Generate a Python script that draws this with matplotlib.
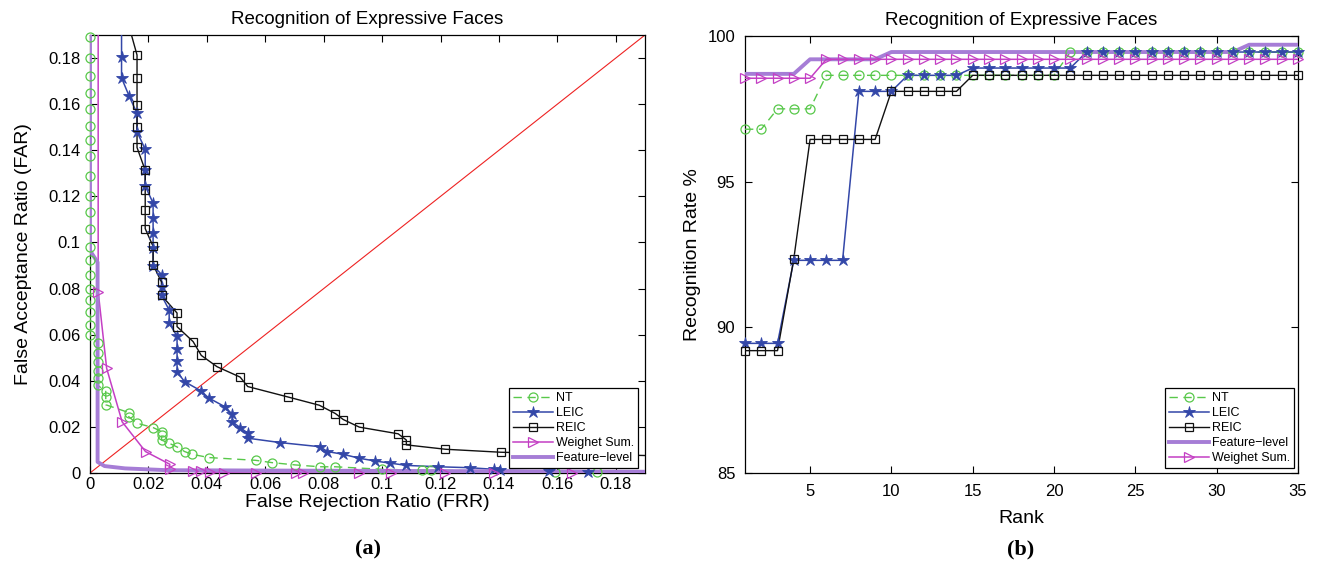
import matplotlib
matplotlib.use('Agg')
import matplotlib.pyplot as plt
from matplotlib.lines import Line2D
from matplotlib.ticker import FormatStrFormatter
import numpy as np

plt.rcParams['font.family'] = ['Liberation Sans', 'DejaVu Sans']

# ---------------- data: panel (a) DET-like curves ----------------
nt_frr = [0, 0, 0, 0, 0, 0, 0, 0, 0, 0, 0, 0, 0, 0, 0, 0, 0, 0, 0, 0,
          0.0026, 0.0026, 0.0026, 0.0026, 0.0026, 0.0026,
          0.0054, 0.0054, 0.0054,
          0.0133, 0.0133, 0.0161, 0.0216, 0.0245, 0.0245, 0.0245, 0.0271, 0.0298,
          0.0324, 0.035, 0.0407, 0.0567, 0.0623, 0.0703, 0.0787, 0.084, 0.1001,
          0.1138, 0.1166, 0.1593, 0.1734, 0.20]
nt_far = [0.1893, 0.18, 0.1723, 0.1647, 0.1577, 0.1506, 0.1443, 0.1374, 0.1287, 0.1201,
          0.1132, 0.1057, 0.098, 0.0922, 0.0857, 0.0799, 0.0751, 0.0697, 0.0643, 0.060,
          0.0562, 0.0519, 0.0480, 0.0443, 0.0412, 0.0381,
          0.0354, 0.0328, 0.0296,
          0.0262, 0.0243, 0.0216, 0.0197, 0.018, 0.0165, 0.0143, 0.0129, 0.0113,
          0.0093, 0.0081, 0.0067, 0.0055, 0.0045, 0.0035, 0.0027, 0.0027, 0.0016,
          0.0012, 0.0012, 0.0006, 0.0005, 0.0004]

leic_frr = [0.0108, 0.0108, 0.0108, 0.0134, 0.0161, 0.0161, 0.0189, 0.0189, 0.0189,
            0.0216, 0.0216, 0.0216, 0.0216, 0.0216, 0.0245, 0.0245, 0.0245, 0.0271,
            0.0271, 0.0298, 0.0298, 0.0298, 0.0298, 0.0324, 0.0379, 0.0407, 0.0461,
            0.0487, 0.0487, 0.0514, 0.054, 0.054, 0.0651, 0.0787, 0.0813, 0.0867,
            0.0922, 0.0976, 0.1027, 0.1083, 0.1192, 0.130, 0.1382, 0.1405, 0.157,
            0.1704, 0.20]
leic_far = [0.20, 0.1806, 0.1714, 0.1635, 0.156, 0.148, 0.1404, 0.1313, 0.1245,
            0.1171, 0.1107, 0.1042, 0.0977, 0.090, 0.0861, 0.0809, 0.077, 0.0707,
            0.0651, 0.0593, 0.0538, 0.0487, 0.0439, 0.0396, 0.0357, 0.0325, 0.0288,
            0.0255, 0.0222, 0.0197, 0.0173, 0.0151, 0.0132, 0.0114, 0.0093, 0.0081,
            0.0064, 0.0052, 0.0043, 0.0033, 0.0027, 0.0023, 0.0016, 0.0012, 0.0008,
            0.0005, 0.0003]

reic_frr = [0.0120, 0.0161, 0.0161, 0.0161, 0.0161, 0.0161, 0.0189, 0.0189, 0.0189,
            0.0189, 0.0216, 0.0216, 0.0245, 0.0245, 0.0298, 0.0298, 0.0353, 0.0381,
            0.0435, 0.0514, 0.054, 0.0677, 0.0785, 0.0840, 0.0867, 0.0922, 0.1055,
            0.1083, 0.1083, 0.1217, 0.1407, 0.20]
reic_far = [0.20, 0.1813, 0.1712, 0.1596, 0.150, 0.1412, 0.1313, 0.1229, 0.1143,
            0.1060, 0.0983, 0.0903, 0.0828, 0.077, 0.0694, 0.0635, 0.0570, 0.0510,
            0.0461, 0.0416, 0.0375, 0.0330, 0.0294, 0.0258, 0.0232, 0.0199, 0.0170,
            0.0143, 0.0122, 0.0103, 0.0090, 0.0073]

ws_frr = [0.0028, 0.0028, 0.0057, 0.011, 0.019, 0.0273, 0.0273, 0.0353, 0.0379, 0.041,
          0.046, 0.0569, 0.0705, 0.0728, 0.0922, 0.103, 0.1217, 0.1382, 0.165, 0.20]
ws_far = [0.20, 0.0787, 0.0454, 0.0222, 0.0093, 0.0038, 0.0016, 0.0009, 0.0007, 0.0003,
          0.0001, 0.0, 0.0, 0.0, 0.0, 0.0, 0.0, 0.0, 0.0, 0.0]

fl_frr = [0.0, 0.0, 0.0026, 0.0026, 0.005, 0.012, 0.0267, 0.20]
fl_far = [0.20, 0.0965, 0.0914, 0.0048, 0.003, 0.002, 0.0012, 0.0005]

# ---------------- data: panel (b) CMC curves ----------------
ranks = list(range(1, 36))
nt_rate = [96.8] * 2 + [97.5] * 3 + [98.65] * 15 + [99.45] * 15
leic_rate = [89.45] * 3 + [92.3] * 4 + [98.1] * 3 + [98.65] * 4 + [98.9] * 7 + [99.45] * 14
reic_rate = [89.2] * 3 + [92.35] + [96.45] * 5 + [98.1] * 5 + [98.65] * 21
ws_rate = [98.55] * 5 + [99.2] * 30
fl_rate = [98.7] * 4 + [99.2] * 5 + [99.45] * 22 + [99.7] * 4

title_text = 'Recognition of Expressive Faces'
ticks_a = [0, 0.02, 0.04, 0.06, 0.08, 0.1, 0.12, 0.14, 0.16, 0.18]
xticks_b = [5, 10, 15, 20, 25, 30, 35]
yticks_b = [85, 90, 95, 100]

# ---------------- styles ----------------
GREEN = '#58c84a'
BLUE = '#3347a8'
BLACK = '#111111'
MAGENTA = '#c43fc4'
LAVENDER = '#a67dd6'

styles = {
    'NT': dict(color=GREEN, ls=(0, (6, 4)), lw=1.0, marker='o', ms=6.5, mfc='none', mew=0.9),
    'LEIC': dict(color=BLUE, ls='-', lw=1.1, marker='*', ms=9, mfc=BLUE, mew=0.6),
    'REIC': dict(color=BLACK, ls='-', lw=1.0, marker='s', ms=6, mfc='none', mew=0.9),
    'WS': dict(color=MAGENTA, ls='-', lw=1.1, marker='>', ms=7, mfc='none', mew=0.9),
    'FL': dict(color=LAVENDER, ls='-', lw=2.8, marker=None, ms=0, mfc='none', mew=0),
}


def draw(ax, x, y, st, xlim, ylim):
    x = np.asarray(x, float)
    y = np.asarray(y, float)
    ax.plot(x, y, color=st['color'], ls=st['ls'], lw=st['lw'], zorder=3)
    if st['marker']:
        m = (x >= xlim[0]) & (x <= xlim[1]) & (y >= ylim[0]) & (y <= ylim[1])
        ax.plot(x[m], y[m], ls='none', marker=st['marker'], ms=st['ms'],
                mfc=st['mfc'], mec=st['color'], mew=st['mew'], clip_on=False, zorder=4)
    return Line2D([], [], color=st['color'], ls=st['ls'], lw=st['lw'],
                  marker=st['marker'] if st['marker'] else None, ms=st['ms'],
                  mfc=st['mfc'], mec=st['color'], mew=st['mew'])


fig = plt.figure(figsize=(13.2, 5.65), dpi=100)
ax1 = fig.add_axes([90 / 1320, 92 / 565, 555 / 1320, 438 / 565])
ax2 = fig.add_axes([745 / 1320, 92 / 565, 553 / 1320, 437 / 565])

# ---------- panel (a) ----------
lim_a = (0, 0.19)
ax1.plot(lim_a, lim_a, color='#ee2222', lw=0.8, zorder=2)
h_nt = draw(ax1, nt_frr, nt_far, styles['NT'], lim_a, lim_a)
h_leic = draw(ax1, leic_frr, leic_far, styles['LEIC'], lim_a, lim_a)
h_reic = draw(ax1, reic_frr, reic_far, styles['REIC'], lim_a, lim_a)
h_ws = draw(ax1, ws_frr, ws_far, styles['WS'], lim_a, lim_a)
h_fl = draw(ax1, fl_frr, fl_far, styles['FL'], lim_a, lim_a)
ax1.set_xlim(lim_a)
ax1.set_ylim(lim_a)
ax1.set_xticks(ticks_a)
ax1.set_yticks(ticks_a)
ax1.xaxis.set_major_formatter(FormatStrFormatter('%g'))
ax1.yaxis.set_major_formatter(FormatStrFormatter('%g'))
ax1.tick_params(direction='in', top=True, right=True, length=5, width=0.8,
                labelsize=12, pad=3)
ax1.tick_params(axis='y', pad=7)
ax1.set_title(title_text, fontsize=13.5, pad=8)
ax1.set_xlabel('False Rejection Ratio (FRR)', fontsize=14)
ax1.xaxis.set_label_coords(0.5, -0.068)
ax1.xaxis.label.set_va('center')
ax1.set_ylabel('False Acceptance Ratio (FAR)', fontsize=14)
ax1.yaxis.set_label_coords(-0.12, 0.5)
ax1.yaxis.label.set_va('center')
leg1 = ax1.legend([h_nt, h_leic, h_reic, h_ws, h_fl],
                  ['NT', 'LEIC', 'REIC', 'Weighet Sum.', 'Feature\u2212level'],
                  loc='lower right', bbox_to_anchor=(0.988, 0.011), fontsize=9,
                  fancybox=False, framealpha=1, edgecolor='black', handlelength=3.2,
                  handletextpad=0.3, labelspacing=0.25, borderpad=0.3, borderaxespad=0)
leg1.get_frame().set_linewidth(0.9)
leg1.set_zorder(10)

# ---------- panel (b) ----------
xlim_b = (1, 35)
ylim_b = (85, 100)
g_nt = draw(ax2, ranks, nt_rate, styles['NT'], xlim_b, ylim_b)
g_leic = draw(ax2, ranks, leic_rate, styles['LEIC'], xlim_b, ylim_b)
g_reic = draw(ax2, ranks, reic_rate, styles['REIC'], xlim_b, ylim_b)
g_fl = draw(ax2, ranks, fl_rate, styles['FL'], xlim_b, ylim_b)
g_ws = draw(ax2, ranks, ws_rate, styles['WS'], xlim_b, ylim_b)
ax2.set_xlim(xlim_b)
ax2.set_ylim(ylim_b)
ax2.set_xticks(xticks_b)
ax2.set_yticks(yticks_b)
ax2.tick_params(direction='in', top=True, right=True, length=5, width=0.8,
                labelsize=12, pad=8)
ax2.tick_params(axis='y', pad=7)
ax2.set_title(title_text, fontsize=13.5, pad=8)
ax2.set_xlabel('Rank', fontsize=14)
ax2.xaxis.set_label_coords(0.5, -0.103)
ax2.xaxis.label.set_va('center')
ax2.set_ylabel('Recognition Rate %', fontsize=14)
ax2.yaxis.set_label_coords(-0.095, 0.5)
ax2.yaxis.label.set_va('center')
leg2 = ax2.legend([g_nt, g_leic, g_reic, g_fl, g_ws],
                  ['NT', 'LEIC', 'REIC', 'Feature\u2212level', 'Weighet Sum.'],
                  loc='lower right', bbox_to_anchor=(0.993, 0.011), fontsize=9,
                  fancybox=False, framealpha=1, edgecolor='black', handlelength=3.2,
                  handletextpad=0.3, labelspacing=0.25, borderpad=0.3, borderaxespad=0)
leg2.get_frame().set_linewidth(0.9)
leg2.set_zorder(10)

for ax in (ax1, ax2):
    for sp in ax.spines.values():
        sp.set_linewidth(0.9)

fig.text(368 / 1320, 1 - 549 / 565, '(a)', ha='center', va='center', fontsize=16,
         fontweight='bold', family=['Liberation Serif', 'DejaVu Serif'])
fig.text(1021 / 1320, 1 - 549 / 565, '(b)', ha='center', va='center', fontsize=16,
         fontweight='bold', family=['Liberation Serif', 'DejaVu Serif'])

fig.savefig('out.png', dpi=100)
